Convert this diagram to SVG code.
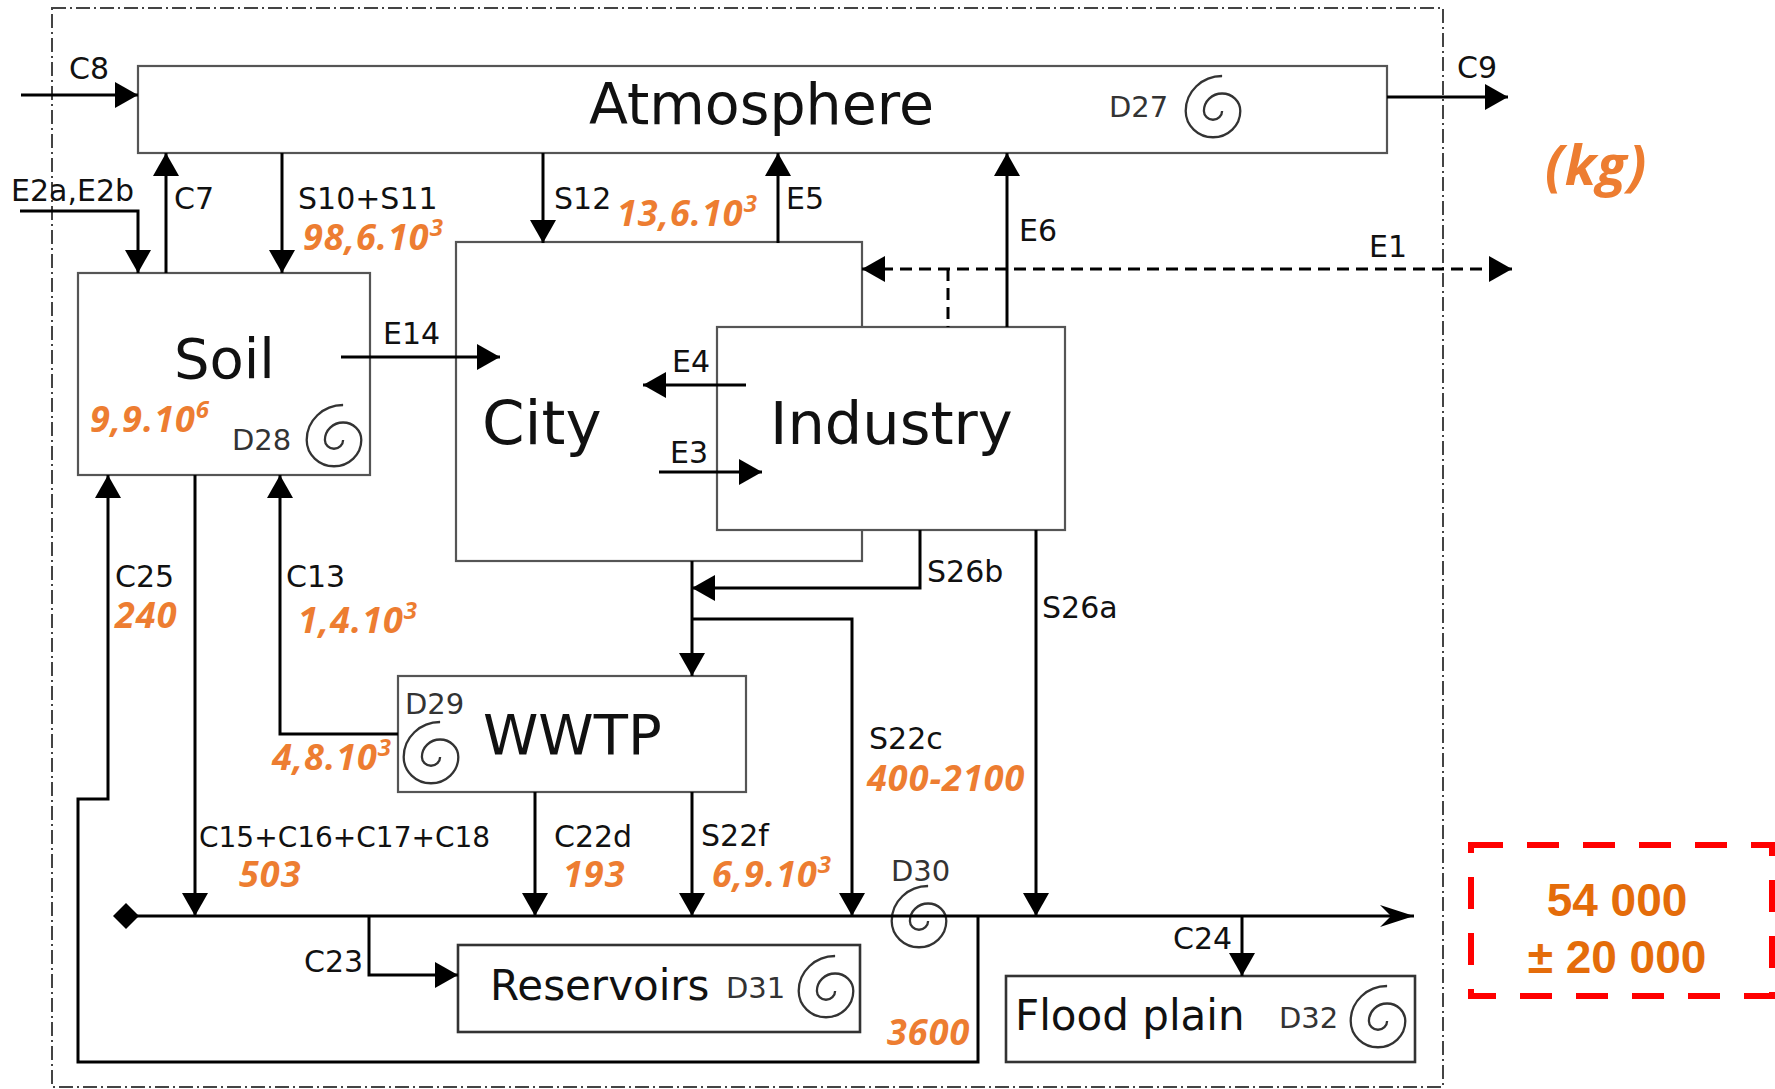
<svg xmlns="http://www.w3.org/2000/svg" width="1775" height="1089" viewBox="0 0 1775 1089">
<style>
.box{fill:#fff;stroke:#555;stroke-width:2.2}
.box2{fill:#fff;stroke:#333;stroke-width:2.6}
.ln{fill:none;stroke:#000;stroke-width:3}
.big{font-family:"DejaVu Sans",Verdana,sans-serif;fill:#111}
.lb{font-family:"DejaVu Sans",Verdana,sans-serif;font-size:30px;fill:#111}
.dl{font-family:"DejaVu Sans",Verdana,sans-serif;font-size:29px;fill:#333}
.or{font-family:"Open Sans","Noto Sans",sans-serif;font-size:36px;font-weight:bold;font-style:italic;fill:#ED7D31;letter-spacing:1px}
.sup{font-size:24px}
.sp{fill:none;stroke:#333;stroke-width:2.3}
</style>
<defs>
<marker id="ah" markerUnits="userSpaceOnUse" markerWidth="24" markerHeight="26" refX="23" refY="13" orient="auto"><path d="M0,0 L23,13 L0,26 z" fill="#000"/></marker>
<marker id="ahr" markerUnits="userSpaceOnUse" markerWidth="24" markerHeight="26" refX="23" refY="13" orient="auto-start-reverse"><path d="M0,0 L23,13 L0,26 z" fill="#000"/></marker>
<marker id="st" markerUnits="userSpaceOnUse" markerWidth="34" markerHeight="22" refX="34" refY="11" orient="auto"><path d="M0,0 L34,11 L0,22 L11,11 z" fill="#000"/></marker>
<path id="spiral" d="M7,0 A7,7 0 0 1 -7,0 A14,14 0 0 1 21,0 A21,21 0 0 1 -21,0 A28,28 0 0 1 7,-28" class="sp" vector-effect="non-scaling-stroke"/>
</defs>
<rect width="1775" height="1089" fill="#fff"/>
<!-- system boundary -->
<rect id="boundary" x="52" y="8" width="1391" height="1079" fill="none" stroke="#444" stroke-width="2" stroke-dasharray="14 4 2 4"/>

<g id="atmosphere">
<rect class="box" x="138" y="66" width="1249" height="87"/>
<text class="big" x="589" y="124" font-size="57">Atmosphere</text>
<text class="dl" x="1109" y="117">D27</text>
<use href="#spiral" transform="translate(1213,111) scale(1.3,1.25)"/>
</g>
<g id="soil">
<rect class="box" x="78" y="273" width="292" height="202"/>
<text class="big" x="174" y="378" font-size="56">Soil</text>
<text class="or" x="90" y="432">9,9.10<tspan class="sup" dy="-14">6</tspan></text>
<text class="dl" x="232" y="450">D28</text>
<use href="#spiral" transform="translate(334,440) scale(1.3,1.25)"/>
</g>
<g id="city">
<rect class="box" x="456" y="242" width="406" height="319"/>
<text class="big" x="482" y="444" font-size="61">City</text>
</g>
<g id="industry">
<rect class="box" x="717" y="327" width="348" height="203"/>
<text class="big" x="770" y="444" font-size="59">Industry</text>
</g>
<g id="wwtp">
<rect class="box" x="398" y="676" width="348" height="116"/>
<text class="big" x="483" y="754" font-size="56">WWTP</text>
<text class="dl" x="405" y="714">D29</text>
<use href="#spiral" transform="translate(431,757) scale(1.3,1.25)"/>
</g>
<g id="river">
<text class="dl" x="891" y="881">D30</text>
<use href="#spiral" transform="translate(919,921) scale(1.3,1.25)"/>
</g>
<g id="reservoirs">
<rect class="box2" x="458" y="945" width="402" height="87"/>
<text class="big" x="490" y="1000" font-size="42">Reservoirs</text>
<text class="dl" x="726" y="998">D31</text>
<use href="#spiral" transform="translate(826,991) scale(1.3,1.25)"/>
</g>
<g id="floodplain">
<rect class="box2" x="1006" y="976" width="409" height="86"/>
<text class="big" x="1015" y="1030" font-size="42">Flood plain</text>
<text class="dl" x="1279" y="1028">D32</text>
<use href="#spiral" transform="translate(1378,1021) scale(1.3,1.25)"/>
</g>

<g id="connectors">
<line class="ln" x1="21" y1="95" x2="138" y2="95" marker-end="url(#ah)"/>
<line class="ln" x1="1387" y1="97" x2="1508" y2="97" marker-end="url(#ah)"/>
<polyline class="ln" points="20,211 138,211 138,273" marker-end="url(#ah)"/>
<line class="ln" x1="166" y1="273" x2="166" y2="153" marker-end="url(#ah)"/>
<line class="ln" x1="282" y1="153" x2="282" y2="273" marker-end="url(#ah)"/>
<line class="ln" x1="543" y1="153" x2="543" y2="243" marker-end="url(#ah)"/>
<line class="ln" x1="778" y1="243" x2="778" y2="153" marker-end="url(#ah)"/>
<line class="ln" x1="1007" y1="327" x2="1007" y2="153" marker-end="url(#ah)"/>
<line class="ln" x1="862" y1="269" x2="1512" y2="269" stroke-dasharray="12 7" marker-start="url(#ahr)" marker-end="url(#ahr)"/>
<line class="ln" x1="948" y1="269" x2="948" y2="327" stroke-dasharray="12 7"/>
<line class="ln" x1="341" y1="357" x2="500" y2="357" marker-end="url(#ah)"/>
<line class="ln" x1="746" y1="385" x2="643" y2="385" marker-end="url(#ah)"/>
<line class="ln" x1="659" y1="472" x2="762" y2="472" marker-end="url(#ah)"/>
<polyline class="ln" points="920,530 920,588 692,588" marker-end="url(#ah)"/>
<line class="ln" x1="692" y1="561" x2="692" y2="676" marker-end="url(#ah)"/>
<polyline class="ln" points="692,619 852,619 852,916" marker-end="url(#ah)"/>
<line class="ln" x1="1036" y1="530" x2="1036" y2="916" marker-end="url(#ah)"/>
<line class="ln" x1="535" y1="792" x2="535" y2="916" marker-end="url(#ah)"/>
<line class="ln" x1="692" y1="792" x2="692" y2="916" marker-end="url(#ah)"/>
<line class="ln" x1="195" y1="475" x2="195" y2="916" marker-end="url(#ah)"/>
<polyline class="ln" points="398,734 280,734 280,475" marker-end="url(#ah)"/>
<polyline class="ln" points="978,916 978,1062 78,1062 78,799 108,799 108,475" marker-end="url(#ah)"/>
<line class="ln" x1="126" y1="916" x2="1414" y2="916" marker-end="url(#st)"/>
<polygon points="126,903 139,916 126,929 113,916" fill="#000"/>
<polyline class="ln" points="369,916 369,975 458,975" marker-end="url(#ah)"/>
<line class="ln" x1="1242" y1="916" x2="1242" y2="976" marker-end="url(#ah)"/>
</g>

<g id="labels">
<text class="lb" x="69" y="79">C8</text>
<text class="lb" x="1457" y="78">C9</text>
<text class="lb" x="11" y="201">E2a,E2b</text>
<text class="lb" x="174" y="209">C7</text>
<text class="lb" x="298" y="209">S10+S11</text>
<text class="lb" x="554" y="209">S12</text>
<text class="lb" x="786" y="209">E5</text>
<text class="lb" x="1019" y="241">E6</text>
<text class="lb" x="1369" y="257">E1</text>
<text class="lb" x="383" y="344">E14</text>
<text class="lb" x="672" y="372">E4</text>
<text class="lb" x="670" y="463">E3</text>
<text class="lb" x="927" y="582">S26b</text>
<text class="lb" x="1042" y="618">S26a</text>
<text class="lb" x="115" y="587">C25</text>
<text class="lb" x="286" y="587">C13</text>
<text class="lb" x="869" y="749">S22c</text>
<text class="lb" x="199" y="847" style="font-size:28px">C15+C16+C17+C18</text>
<text class="lb" x="554" y="847">C22d</text>
<text class="lb" x="701" y="846">S22f</text>
<text class="lb" x="304" y="972">C23</text>
<text class="lb" x="1173" y="949">C24</text>

<text class="or" x="303" y="250">98,6.10<tspan class="sup" dy="-14">3</tspan></text>
<text class="or" x="617" y="226">13,6.10<tspan class="sup" dy="-14">3</tspan></text>
<text class="or" x="115" y="628">240</text>
<text class="or" x="298" y="633">1,4.10<tspan class="sup" dy="-14">3</tspan></text>
<text class="or" x="272" y="770">4,8.10<tspan class="sup" dy="-14">3</tspan></text>
<text class="or" x="239" y="887">503</text>
<text class="or" x="563" y="887">193</text>
<text class="or" x="712" y="887">6,9.10<tspan class="sup" dy="-14">3</tspan></text>
<text class="or" x="867" y="791">400-2100</text>
<text class="or" x="887" y="1045">3600</text>
<text class="or" x="1545" y="185" style="font-size:55px">(kg)</text>
</g>

<g id="total">
<rect x="1471" y="845" width="301" height="151" fill="none" stroke="#FF0000" stroke-width="6" stroke-dasharray="32 24"/>
<text x="1617" y="916" text-anchor="middle" font-family="Liberation Sans, Arial, sans-serif" font-weight="bold" font-size="46" fill="#E46C0A">54 000</text>
<text x="1617" y="973" text-anchor="middle" font-family="Liberation Sans, Arial, sans-serif" font-weight="bold" font-size="46" fill="#E46C0A">± 20 000</text>
</g>
</svg>
